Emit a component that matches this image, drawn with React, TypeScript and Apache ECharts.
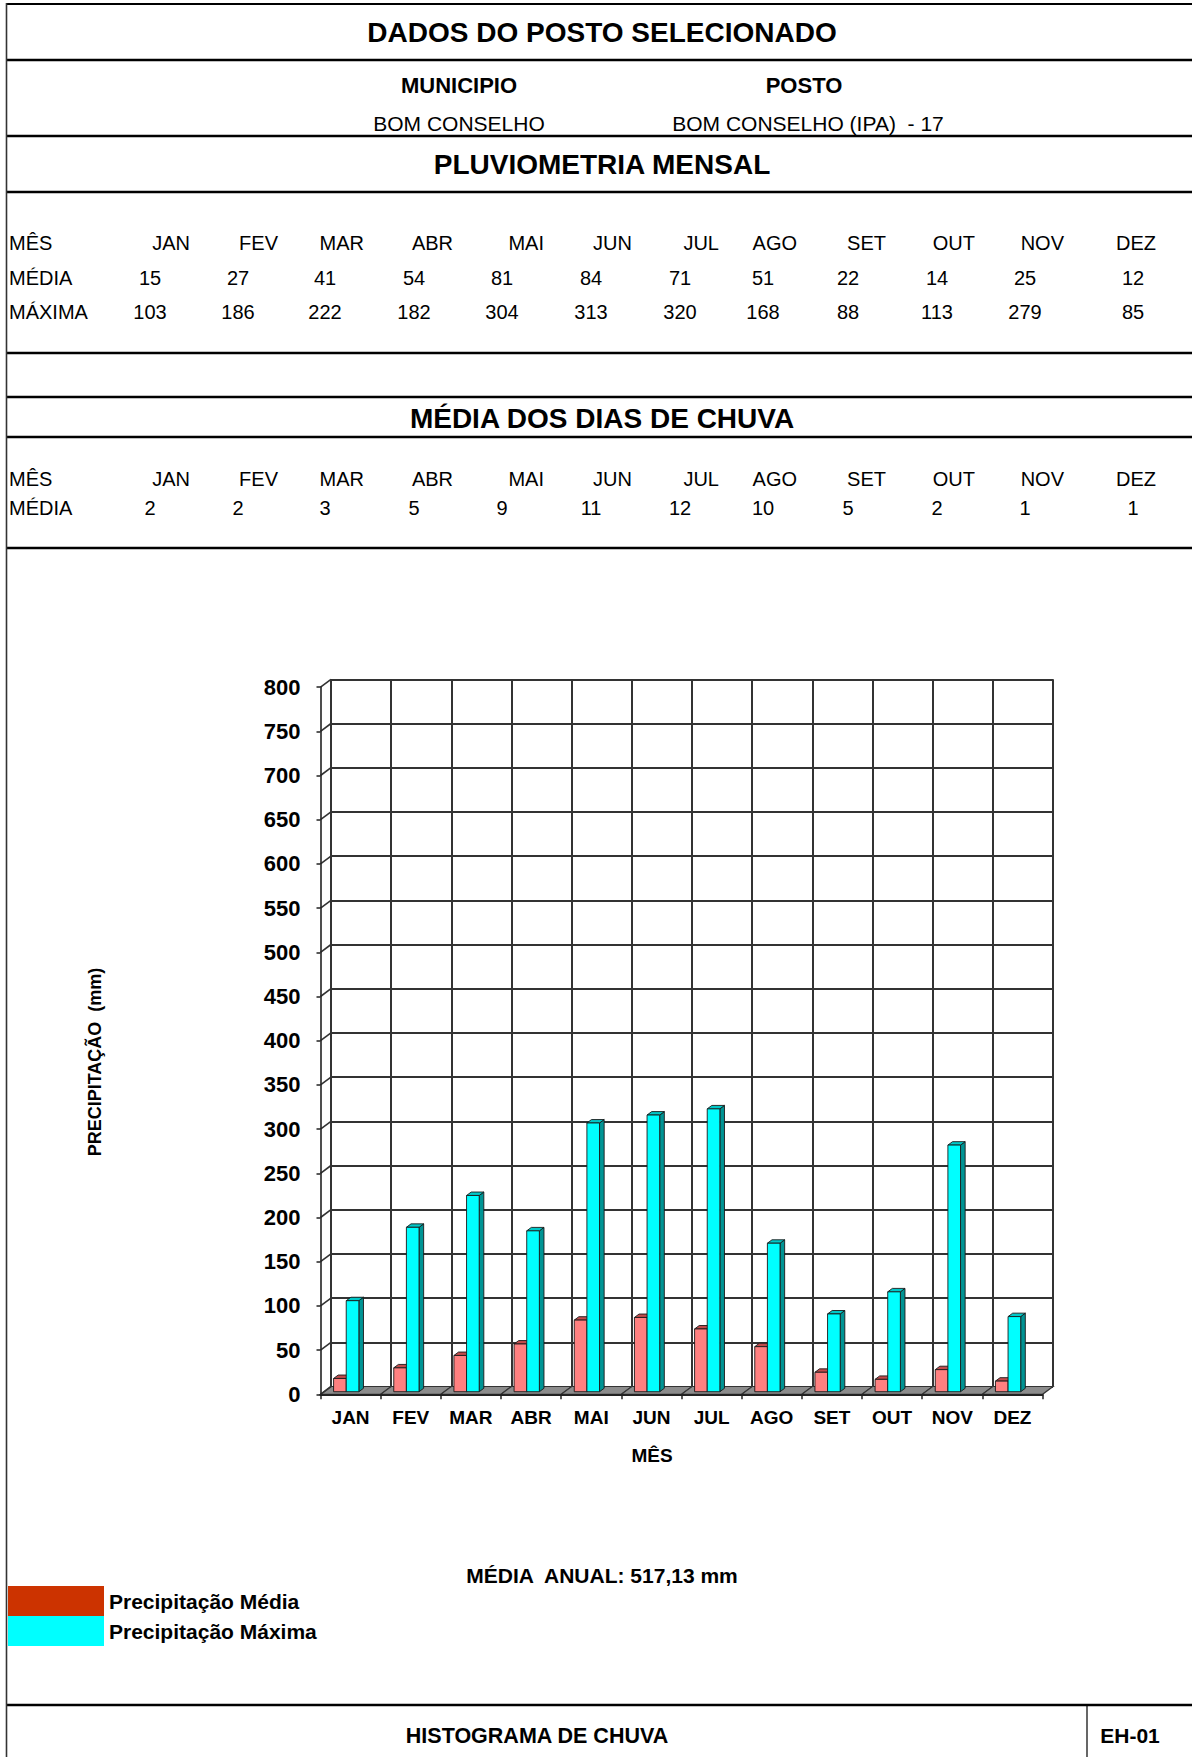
import React, { useEffect, useRef } from "react";
import * as echarts from "echarts";

// ---------- DATA ----------
const months = ["JAN", "FEV", "MAR", "ABR", "MAI", "JUN", "JUL", "AGO", "SET", "OUT", "NOV", "DEZ"];
const mediaMensal = [15, 27, 41, 54, 81, 84, 71, 51, 22, 14, 25, 12];
const maximaMensal = [103, 186, 222, 182, 304, 313, 320, 168, 88, 113, 279, 85];
const diasChuva = [2, 2, 3, 5, 9, 11, 12, 10, 5, 2, 1, 1];
const yTicks = [0, 50, 100, 150, 200, 250, 300, 350, 400, 450, 500, 550, 600, 650, 700, 750, 800];
const municipio = "BOM CONSELHO";
const posto = "BOM CONSELHO (IPA)  - 17";
const mediaAnualTxt = "MÉDIA  ANUAL: 517,13 mm";
const seriesNames = ["Precipitação Média", "Precipitação Máxima"];

// ---------- LAYOUT ----------
const W = 1192;
const H = 1757;
const FONT = "'Liberation Sans', Arial, Helvetica, sans-serif";
const FRONT = { left: 320.5, top: 687.1, width: 722, height: 707.2 };
const DX = 10.5; // depth offset front -> back
const DY = -7.8;
const BACK = { left: FRONT.left + DX, top: FRONT.top + DY, width: FRONT.width, height: FRONT.height };
const ZF = 0.33; // bar front face depth
const ZD = 0.44; // bar depth
const BAR_W = 0.21;
const headerRights = [190, 278, 364, 453, 544, 632, 719, 797, 886, 975, 1064, 1156];
const valueCenters = [150, 238, 325, 414, 502, 591, 680, 763, 848, 937, 1025, 1133];
const hLines = [60, 136, 192, 353, 397, 437, 548, 1705];

const RED = { face: "#FF8080", top: "#C04C4C", side: "#A33A3A", legend: "#CC3300" };
const CYAN = { face: "#00FFFF", top: "#00C8C8", side: "#009494", legend: "#00FFFF" };

function txt(text: string, x: number, y: number, size: number, bold: boolean, align = "center", extra: any = {}) {
  return {
    type: "text",
    x,
    y,
    silent: true,
    ...extra,
    style: {
      text,
      fill: "#000",
      font: `${bold ? "bold " : ""}${size}px ${FONT}`,
      textAlign: align,
      align,
      textVerticalAlign: "middle",
      verticalAlign: "middle",
    },
  };
}

function hline(y: number, x1: number, x2: number, w = 2.5) {
  return { type: "line", silent: true, shape: { x1, y1: y, x2, y2: y }, style: { stroke: "#000", lineWidth: w } };
}

function makeBar(frac: number, colors: any) {
  return (params: any, api: any) => {
    const i = api.value(0);
    const v = api.value(1);
    const base = api.coord([i, 0]);
    const top = api.coord([i, v]);
    const bw = api.size([1, 0])[0];
    const catStart = base[0] - bw / 2;
    const x0 = catStart + ZF * DX + frac * bw;
    const w = BAR_W * bw;
    const x1 = x0 + w;
    const yB = base[1] + ZF * DY;
    const yT = top[1] + ZF * DY;
    const ddx = ZD * DX;
    const ddy = ZD * DY;
    const st = { stroke: "#1a1a1a", lineWidth: 0.9 };
    return {
      type: "group",
      children: [
        {
          type: "polygon",
          shape: { points: [[x1, yT], [x1 + ddx, yT + ddy], [x1 + ddx, yB + ddy], [x1, yB]] },
          style: { fill: colors.side, ...st },
        },
        {
          type: "polygon",
          shape: { points: [[x0, yT], [x1, yT], [x1 + ddx, yT + ddy], [x0 + ddx, yT + ddy]] },
          style: { fill: colors.top, ...st },
        },
        {
          type: "rect",
          shape: { x: x0, y: yT, width: w, height: yB - yT },
          style: { fill: colors.face, ...st },
        },
      ],
    };
  };
}

export default function App() {
  const ref = useRef<HTMLDivElement>(null);

  useEffect(() => {
    document.body.style.margin = "0";
    document.body.style.overflow = "hidden";
    if (!ref.current) return;
    const chart = echarts.init(ref.current, undefined, { renderer: "svg", width: W, height: H });

    const graphics: any[] = [];
    // frame lines
    graphics.push(hline(4, 6, W, 2));
    hLines.forEach((y) => graphics.push(hline(y, 6, W, 2.6)));
    graphics.push({ type: "line", silent: true, shape: { x1: 6.5, y1: 3, x2: 6.5, y2: H }, style: { stroke: "#333", lineWidth: 1.6 } });
    graphics.push({ type: "line", silent: true, shape: { x1: 1087, y1: 1705, x2: 1087, y2: H }, style: { stroke: "#000", lineWidth: 1.2 } });

    // headers
    graphics.push(txt("DADOS DO POSTO SELECIONADO", 602, 32, 28, true));
    graphics.push(txt("MUNICIPIO", 459, 85, 22, true));
    graphics.push(txt("POSTO", 804, 85, 22, true));
    graphics.push(txt(municipio, 459, 123, 21, false));
    graphics.push(txt(posto, 808, 123, 21, false));
    graphics.push(txt("PLUVIOMETRIA MENSAL", 602, 164, 28, true));

    // table 1
    graphics.push(txt("MÊS", 9, 243, 20, false, "left"));
    graphics.push(txt("MÉDIA", 9, 278, 20, false, "left"));
    graphics.push(txt("MÁXIMA", 9, 312, 20, false, "left"));
    months.forEach((m, i) => {
      graphics.push(txt(m, headerRights[i], 243, 20, false, "right"));
      graphics.push(txt(String(mediaMensal[i]), valueCenters[i], 278, 20, false));
      graphics.push(txt(String(maximaMensal[i]), valueCenters[i], 312, 20, false));
    });

    graphics.push(txt("MÉDIA DOS DIAS DE CHUVA", 602, 418, 28, true));
    graphics.push(txt("MÊS", 9, 479, 20, false, "left"));
    graphics.push(txt("MÉDIA", 9, 508, 20, false, "left"));
    months.forEach((m, i) => {
      graphics.push(txt(m, headerRights[i], 479, 20, false, "right"));
      graphics.push(txt(String(diasChuva[i]), valueCenters[i], 508, 20, false));
    });

    // chart names
    graphics.push(txt("PRECIPITAÇÃO  (mm)", 95, 1062, 18, true, "center", { rotation: Math.PI / 2 }));
    graphics.push(txt("MÊS", 652, 1455, 19, true));
    graphics.push(txt(mediaAnualTxt, 602, 1575, 21, true));
    graphics.push(txt("HISTOGRAMA DE CHUVA", 537, 1736, 21.5, true));
    graphics.push(txt("EH-01", 1130, 1735, 21, true));

    const option: any = {
      animation: false,
      backgroundColor: "#fff",
      grid: [
        { left: BACK.left, top: BACK.top, width: BACK.width, height: BACK.height, containLabel: false },
        { left: FRONT.left, top: FRONT.top, width: FRONT.width, height: FRONT.height, containLabel: false },
      ],
      xAxis: [
        {
          type: "category",
          gridIndex: 0,
          data: months,
          axisLine: { show: false },
          axisTick: { show: false },
          axisLabel: { show: false },
          splitLine: { show: true, interval: 0, lineStyle: { color: "#333", width: 2 } },
        },
        {
          type: "category",
          gridIndex: 1,
          data: months,
          z: 10,
          axisLine: { show: true, lineStyle: { color: "#222", width: 2 } },
          axisTick: { show: true, length: 5, interval: 0, lineStyle: { color: "#222", width: 1.5 } },
          axisLabel: { interval: 0, color: "#000", fontWeight: "bold", fontSize: 19, fontFamily: FONT, margin: 14 },
          splitLine: { show: false },
        },
      ],
      yAxis: [
        {
          type: "value",
          gridIndex: 0,
          min: 0,
          max: 800,
          interval: 50,
          axisLine: { show: false },
          axisTick: { show: false },
          axisLabel: { show: false },
          splitLine: { show: true, lineStyle: { color: "#333", width: 2 } },
        },
        {
          type: "value",
          gridIndex: 1,
          min: 0,
          max: 800,
          interval: 50,
          z: 10,
          axisLine: { show: true, lineStyle: { color: "#222", width: 1.6 } },
          axisTick: { show: true, length: 4, lineStyle: { color: "#222", width: 1.5 } },
          axisLabel: { color: "#000", fontWeight: "bold", fontSize: 22, fontFamily: FONT, margin: 20 },
          splitLine: { show: false },
        },
      ],
      legend: {
        data: seriesNames,
        orient: "vertical",
        left: 8,
        top: 1586,
        padding: 0,
        itemWidth: 96,
        itemHeight: 30,
        itemGap: 0,
        icon: "rect",
        selectedMode: false,
        textStyle: { color: "#000", fontWeight: "bold", fontSize: 21, fontFamily: FONT, padding: [0, 0, 0, 0] },
      },
      graphic: graphics,
      series: [
        {
          type: "custom",
          name: "floor",
          xAxisIndex: 1,
          yAxisIndex: 1,
          z: 1,
          silent: true,
          data: months.map((m, i) => [i, 0]),
          encode: { x: 0, y: 1 },
          renderItem: (params: any, api: any) => {
            const i = api.value(0);
            const c = api.coord([i, 0]);
            const bw = api.size([1, 0])[0];
            const x0 = c[0] - bw / 2;
            const x1 = c[0] + bw / 2;
            const y = c[1];
            return {
              type: "polygon",
              shape: { points: [[x0, y], [x1, y], [x1 + DX, y + DY], [x0 + DX, y + DY]] },
              style: { fill: "#8c8c8c", stroke: "#333", lineWidth: 1.2 },
            };
          },
        },
        {
          type: "custom",
          name: "sideWall",
          xAxisIndex: 1,
          yAxisIndex: 1,
          z: 1,
          silent: true,
          data: yTicks.map((v) => [0, v]),
          encode: { x: 0, y: 1 },
          renderItem: (params: any, api: any) => {
            const c = api.coord([0, api.value(1)]);
            const bw = api.size([1, 0])[0];
            const x = c[0] - bw / 2;
            return {
              type: "line",
              shape: { x1: x, y1: c[1], x2: x + DX, y2: c[1] + DY },
              style: { stroke: "#333", lineWidth: 1.6 },
            };
          },
        },
        {
          type: "custom",
          name: seriesNames[0],
          xAxisIndex: 1,
          yAxisIndex: 1,
          z: 3,
          silent: true,
          itemStyle: { color: RED.legend },
          data: mediaMensal.map((v, i) => [i, v]),
          encode: { x: 0, y: 1 },
          renderItem: makeBar(0.16, RED),
        },
        {
          type: "custom",
          name: seriesNames[1],
          xAxisIndex: 1,
          yAxisIndex: 1,
          z: 4,
          silent: true,
          itemStyle: { color: CYAN.legend },
          data: maximaMensal.map((v, i) => [i, v]),
          encode: { x: 0, y: 1 },
          renderItem: makeBar(0.37, CYAN),
        },
      ],
    };

    chart.setOption(option);
    return () => {
      chart.dispose();
    };
  }, []);

  return <div ref={ref} style={{ width: W, height: H }} />;
}
